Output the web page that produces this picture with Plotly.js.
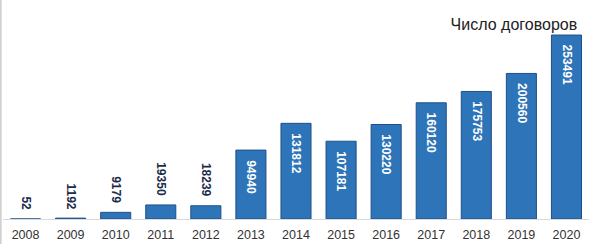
<!DOCTYPE html>
<html>
<head>
<meta charset="utf-8">
<script src="https://cdn.plot.ly/plotly-3.0.1.min.js"></script>
<style>html,body{margin:0;padding:0;background:#fff;}#chart{width:600px;height:244px;}</style>
</head>
<body>
<div id="chart"></div>
<script>
const years = ['2008','2009','2010','2011','2012','2013','2014','2015','2016','2017','2018','2019','2020'];
const contracts = [52, 1192, 9179, 19350, 18239, 94940, 131812, 107181, 130220, 160120, 175753, 200560, 253491];
const chartTitle = 'Число договоров';

const trace = {
  type: 'bar',
  x: years,
  y: contracts,
  marker: {color: '#2e74b8', line: {color: '#1f4f8a', width: 1}},
  hoverinfo: 'none'
};

const labelFont = 'Liberation Sans, Arial, sans-serif';
const annotations = years.map((yr, i) => {
  const inside = contracts[i] > 50000;
  return {
    x: i, y: contracts[i], xref: 'x', yref: 'y',
    text: String(contracts[i]),
    showarrow: false,
    textangle: 90,
    xanchor: 'center',
    yanchor: inside ? 'top' : 'bottom',
    yshift: inside ? -8 : 7,
    font: {family: labelFont, size: 12, color: inside ? '#ffffff' : '#1c2b4a', weight: 'bold'}
  };
});

const layout = {
  width: 600, height: 244,
  margin: {l: 3, r: 11, t: 10, b: 25},
  paper_bgcolor: '#ffffff', plot_bgcolor: '#ffffff',
  showlegend: false,
  bargap: 0.333,
  title: {
    text: chartTitle,
    xref: 'container', yref: 'container',
    x: 0.962, xanchor: 'right',
    y: 0.9, yanchor: 'middle',
    font: {family: labelFont, size: 16, color: '#222222'}
  },
  xaxis: {
    type: 'category',
    range: [-0.5, years.length - 0.5],
    showline: true, linecolor: '#d9d9d9', linewidth: 1,
    ticks: '', showgrid: false, zeroline: false,
    ticklabelstandoff: 4,
    tickfont: {family: labelFont, size: 12.5, color: '#333333'}
  },
  yaxis: {
    range: [0, 288000],
    visible: false, showgrid: false, zeroline: false
  },
  annotations: annotations,
  shapes: [{
    type: 'line', xref: 'paper', yref: 'paper',
    x0: -0.004, x1: -0.004, y0: -0.2, y1: 1.1,
    line: {color: '#d0d0d0', width: 2}
  }]
};

Plotly.newPlot('chart', [trace], layout, {displayModeBar: false, staticPlot: true});
</script>
</body>
</html>
